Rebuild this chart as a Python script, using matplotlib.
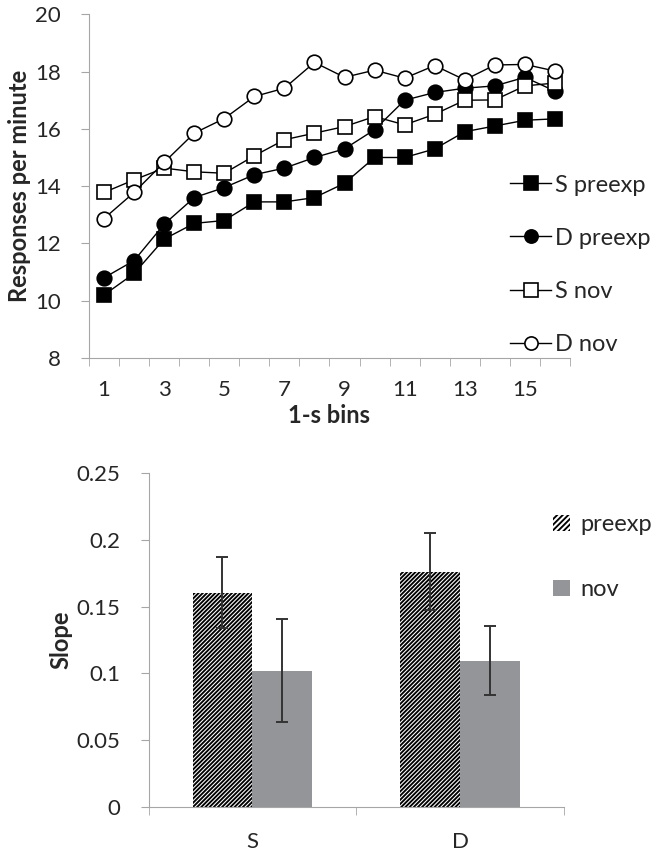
import matplotlib.pyplot as plt
import numpy as np
from matplotlib.lines import Line2D
from matplotlib.patches import Patch

plt.rcParams['font.family'] = ['Lato', 'DejaVu Sans']
plt.rcParams['hatch.linewidth'] = 1.35

TEXT = "#262626"
AXIS = "#a6a6a6"
FS = 16

# top panel: responses per minute in 1-s bins
bins = np.arange(1, 17)
s_preexp = [10.2, 10.95, 12.15, 12.7, 12.8, 13.45, 13.45, 13.6, 14.1, 15.0, 15.0, 15.3, 15.9, 16.1, 16.3, 16.35]
d_preexp = [10.8, 11.4, 12.67, 13.6, 13.95, 14.4, 14.63, 15.0, 15.3, 15.97, 17.0, 17.27, 17.42, 17.5, 17.8, 17.32]
s_nov = [13.78, 14.22, 14.63, 14.5, 14.45, 15.06, 15.62, 15.85, 16.08, 16.43, 16.14, 16.51, 17.0, 17.01, 17.5, 17.6]
d_nov = [12.87, 13.78, 14.83, 15.85, 16.36, 17.13, 17.42, 18.32, 17.8, 18.05, 17.77, 18.21, 17.71, 18.23, 18.25, 18.02]

# bottom panel: slopes
groups = ["S", "D"]
slope_preexp = [0.1605, 0.1763]
err_preexp = [0.0265, 0.029]
slope_nov = [0.102, 0.1095]
err_nov = [0.0385, 0.0258]

fig = plt.figure(figsize=(6.52, 8.56), dpi=100)

# ---- top chart ----
ax1 = fig.add_axes([0.1365, 0.5818, 0.7377, 0.4015])
series = [
    (s_preexp, "s", "black", "S preexp"),
    (d_preexp, "o", "black", "D preexp"),
    (s_nov, "s", "white", "S nov"),
    (d_nov, "o", "white", "D nov"),
]
handles = []
for vals, mk, fc, lab in series:
    ax1.plot(bins, vals, color="black", lw=1.0, marker=mk, ms=10.5,
             mfc=fc, mec="black", mew=1.2)
    handles.append(Line2D([], [], color="black", lw=1.0, marker=mk, ms=9.5,
                          mfc=fc, mec="black", mew=1.2, label=lab))

ax1.set_xlim(0.5, 16.5)
ax1.set_ylim(8, 20)
ax1.set_yticks(np.arange(8, 21, 2))
ax1.set_xticks(np.arange(1, 16, 2))
ax1.set_xticks(np.arange(0.5, 16.6, 1), minor=True)
ax1.tick_params(axis="x", which="major", length=0, pad=16, labelsize=FS, labelcolor=TEXT)
ax1.tick_params(axis="x", which="minor", length=6, color=AXIS, direction="out")
ax1.tick_params(axis="y", length=6, color=AXIS, pad=14, labelsize=FS, labelcolor=TEXT)
for s in ["top", "right"]:
    ax1.spines[s].set_visible(False)
for s in ["left", "bottom"]:
    ax1.spines[s].set_color(AXIS)
ax1.set_xlabel("1-s bins", fontsize=FS + 1, fontweight="bold", color=TEXT, labelpad=3)
ax1.set_ylabel("Responses per minute", fontsize=FS + 1, fontweight="bold", color=TEXT, labelpad=3)

fig.legend(handles=handles, loc="upper left", bbox_to_anchor=(0.768, 0.807),
           frameon=False, fontsize=FS + 1, handlelength=1.75, handletextpad=0.15,
           labelspacing=1.36, labelcolor=TEXT, borderaxespad=0)

# ---- bottom chart ----
ax2 = fig.add_axes([0.2278, 0.0576, 0.6373, 0.3895])
x = np.arange(len(groups))
w = 0.288
ax2.bar(x - w / 2, slope_preexp, w, color="white", edgecolor="black", hatch="////////",
        linewidth=0, label="preexp")
ax2.bar(x + w / 2, slope_nov, w, color="#939598", linewidth=0, label="nov")
ax2.errorbar(x - w / 2, slope_preexp, yerr=err_preexp, fmt="none", ecolor="#333333",
             elinewidth=1.4, capsize=4, capthick=1.4)
ax2.errorbar(x + w / 2, slope_nov, yerr=err_nov, fmt="none", ecolor="#333333",
             elinewidth=1.4, capsize=4, capthick=1.4)

ax2.set_xlim(-0.5, 1.5)
ax2.set_ylim(0, 0.25)
ax2.set_yticks([0, 0.05, 0.1, 0.15, 0.2, 0.25])
ax2.set_yticklabels(["0", "0.05", "0.1", "0.15", "0.2", "0.25"])
ax2.set_xticks(x)
ax2.set_xticklabels(groups)
ax2.set_xticks([-0.5, 0.5, 1.5], minor=True)
ax2.tick_params(axis="x", which="major", length=0, pad=18, labelsize=FS, labelcolor=TEXT)
ax2.tick_params(axis="x", which="minor", length=6, color=AXIS)
ax2.tick_params(axis="y", length=6, color=AXIS, pad=14, labelsize=FS, labelcolor=TEXT)
for s in ["top", "right"]:
    ax2.spines[s].set_visible(False)
for s in ["left", "bottom"]:
    ax2.spines[s].set_color(AXIS)
ax2.set_ylabel("Slope", fontsize=FS + 1, fontweight="bold", color=TEXT, labelpad=3)

leg_handles = [
    Patch(facecolor="white", edgecolor="black", hatch="//////", linewidth=0, label="preexp"),
    Patch(facecolor="#939598", linewidth=0, label="nov"),
]
fig.legend(handles=leg_handles, loc="upper left", bbox_to_anchor=(0.834, 0.410),
           frameon=False, fontsize=FS + 1, handlelength=0.7, handleheight=0.7,
           handletextpad=0.45, labelspacing=1.86, labelcolor=TEXT, borderaxespad=0)

fig.savefig("out.png", dpi=100)
